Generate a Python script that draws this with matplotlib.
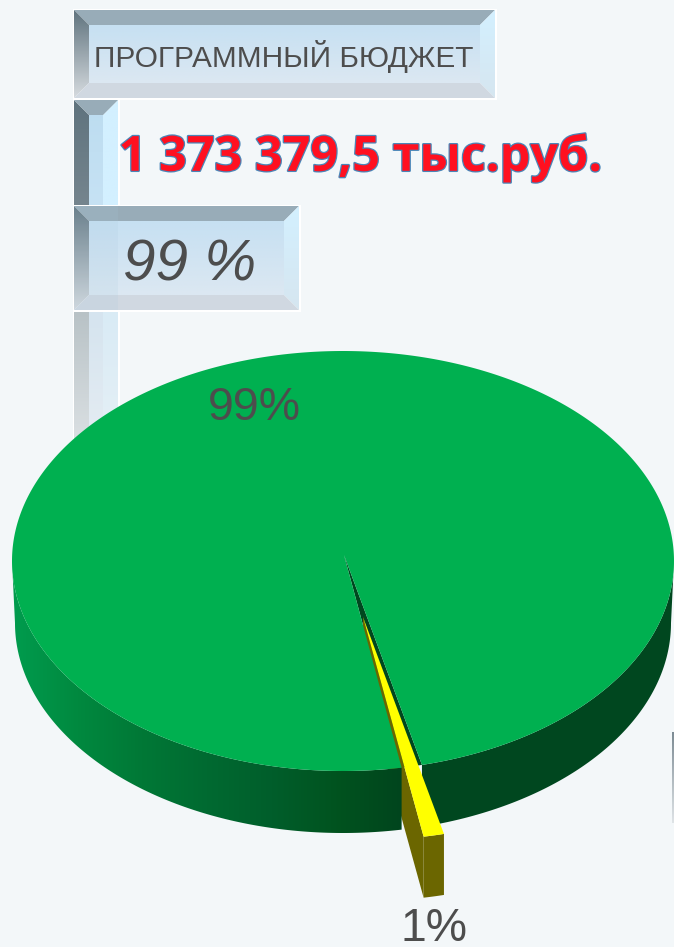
import numpy as np
import matplotlib
matplotlib.use("Agg")
import matplotlib.pyplot as plt
import matplotlib.patheffects as pe
from matplotlib.colors import LinearSegmentedColormap
from matplotlib.patches import Polygon

# data
shares = [99, 1]
pie_labels = ["99%", "1%"]
panel_title = "ПРОГРАММНЫЙ БЮДЖЕТ"
budget_text = "1 373 379,5 тыс.руб."
percent_text = "99 %"

BG = "#f3f7f9"
GREY_TEXT = "#4d4d4d"

fig = plt.figure(figsize=(6.74, 9.47), dpi=100, facecolor=BG)
ax = fig.add_axes([0, 0, 1, 1])
ax.set_axis_off()


def grad(x0, x1, y0, y1, colors, vertical=True, clip=None, alpha=None, z=1):
    cmap = LinearSegmentedColormap.from_list("g", colors)
    ramp = np.linspace(0, 1, 256)
    ramp = ramp[:, None] if vertical else ramp[None, :]
    im = ax.imshow(ramp, cmap=cmap, extent=(x0, x1, y1, y0), aspect="auto",
                   zorder=z, alpha=alpha, interpolation="bilinear")
    if clip is not None:
        p = Polygon(clip, closed=True, transform=ax.transData, fc="none", ec="none")
        ax.add_patch(p)
        im.set_clip_path(p)
    return im


def bevel_panel(x0, y0, x1, y1, b=15, z=1):
    # white hairline, then four bevels around a lighter face
    ax.add_patch(Polygon([(x0 - 1.5, y0 - 1.5), (x1 + 1.5, y0 - 1.5), (x1 + 1.5, y1 + 1.5), (x0 - 1.5, y1 + 1.5)],
                         fc="white", ec="none", zorder=z))
    grad(x0 + b, x1 - b, y0 + b, y1 - b, ["#c6e0f2", "#dce8f2"], z=z + 0.1)
    ax.add_patch(Polygon([(x0, y0), (x1, y0), (x1 - b, y0 + b), (x0 + b, y0 + b)],
                         fc="#98acb8", ec="none", zorder=z + 0.2))
    grad(x0, x0 + b, y0, y1, ["#5f737e", "#d6dbdf"],
         clip=[(x0, y0), (x0 + b, y0 + b), (x0 + b, y1 - b), (x0, y1)], z=z + 0.2)
    grad(x1 - b, x1, y0, y1, ["#d3f0ff", "#d6e6f0"],
         clip=[(x1, y0), (x1 - b, y0 + b), (x1 - b, y1 - b), (x1, y1)], z=z + 0.2)
    ax.add_patch(Polygon([(x0, y1), (x1, y1), (x1 - b, y1 - b), (x0 + b, y1 - b)],
                         fc="#d0d8e1", ec="none", zorder=z + 0.2))


# column behind the small panel, fading into the background
col_x0, col_x1, b = 74, 118, 15
ax.add_patch(Polygon([(col_x0 - 1.5, 100), (col_x1 + 1.5, 100), (col_x1 + 1.5, 206), (col_x0 - 1.5, 206)],
                     fc="white", ec="none", zorder=1))
grad(col_x0, col_x0 + b, 100, 205, ["#5f737e", "#75858e"],
     clip=[(col_x0, 100), (col_x0 + b, 115), (col_x0 + b, 205), (col_x0, 205)], z=1.2)
grad(col_x0 + b, col_x1 - b, 100, 205, ["#bcdcf0", "#c6e2f4"], z=1.1)
grad(col_x1 - b, col_x1, 100, 205, ["#d3f0ff", "#d3f0ff"],
     clip=[(col_x1, 100), (col_x1 - b, 115), (col_x1 - b, 205), (col_x1, 205)], z=1.2)
ax.add_patch(Polygon([(col_x0, 100), (col_x1, 100), (col_x1 - b, 115), (col_x0 + b, 115)],
                     fc="#98acb8", ec="none", zorder=1.3))
ax.add_patch(Polygon([(col_x0 - 1.5, 311), (col_x1 + 1.5, 311), (col_x1 + 1.5, 450), (col_x0 - 1.5, 450)],
                     fc="white", ec="none", zorder=1))
grad(col_x0, col_x0 + b, 312, 450, ["#b8c2c6", "#dde2e5"], z=1.2)
grad(col_x0 + b, col_x1 - b, 312, 450, ["#d5e4ef", "#e6edf3"], z=1.1)
grad(col_x1 - b, col_x1, 312, 450, ["#d9ebf5", "#e6f0f6"], z=1.2)

bevel_panel(74, 10, 495, 98, z=2)
bevel_panel(74, 206, 299, 310, z=2)
# column shows through the small panel
ax.add_patch(Polygon([(col_x0, 206), (col_x1, 206), (col_x1, 310), (col_x0, 310)],
                     fc="#a8c8dc", ec="none", alpha=0.16, zorder=2.5))
# sliver of a panel cut off by the right edge
grad(672, 674, 732, 823, ["#7d8b94", "#dfe4e7"], z=1)

ax.text(284, 56, panel_title, fontsize=21.4, color=GREY_TEXT, family="Liberation Sans",
        ha="center", va="center", zorder=5)
ax.text(190, 265, percent_text, fontsize=42, color=GREY_TEXT, family="Liberation Sans",
        style="italic", ha="center", va="center", zorder=5)
ax.text(360, 158, budget_text, fontsize=35, color="#ff1020", family="Open Sans",
        weight="bold", ha="center", va="center", zorder=5,
        path_effects=[pe.withStroke(linewidth=1.8, foreground="#4a86b8")])

# pie geometry, flattened ellipse seen from above
cx, cy, rx, ry = 343, 561, 331, 210
depth = 62
rx_low = 328  # lower rim is a little narrower
apex = np.array([344, 555])
small_centre = 12.0  # deg from straight down, towards the right
small_sweep = 360 * shares[1] / sum(shares)
a0 = np.radians(small_centre - small_sweep / 2)
a1 = np.radians(small_centre + small_sweep / 2)


def rim(angles):
    return np.column_stack([cx + rx * np.sin(angles), cy + ry * np.cos(angles)])


def low_rim(angles):
    return np.column_stack([cx + rx_low * np.sin(angles), cy + depth + ry * np.cos(angles)])


def low_at_x(x):
    # angle on the lower rim under a given x, on the front of the pie
    return np.arcsin((np.asarray(x) - cx) / rx_low)


# angles run from a1 the long way round to a0 + 2 pi
big = np.linspace(a1, a0 + 2 * np.pi, 720)
big_rim = rim(big)
top_face = np.vstack([apex, big_rim])

# side wall, right of the cut
right_t = np.linspace(a1, np.pi / 2, 120)
rr = rim(right_t)
right_low = low_rim(np.linspace(low_at_x(rr[0, 0]), np.pi / 2, 120))
right_wall = np.vstack([rr, right_low[::-1]])
ax.add_patch(Polygon(right_wall, fc="#00471f", ec="none", zorder=6))

# dark inner wall seen through the gap
gap = np.vstack([apex, rim(np.array([a0, a1]))])
ax.add_patch(Polygon(gap, fc="#00471f", ec="none", zorder=6.1))

# small slice, pulled out
off_tip = np.array([19, 62])
off_rim = np.array([22, 69])
tip = apex + off_tip
outer = rim(np.linspace(a0, a1, 8)) + off_rim
slice_depth = 61
wall = np.vstack([tip, outer[0], outer[0] + [0, slice_depth], tip + [0, slice_depth]])
front = np.vstack([outer, (outer + [0, slice_depth])[::-1]])
ax.add_patch(Polygon(wall, fc="#6b6600", ec="none", zorder=6.2))
ax.add_patch(Polygon(front, fc="#6b6600", ec="none", zorder=6.2))

# side wall, left of the cut, with the shading of the original
left_t = np.linspace(3 * np.pi / 2, a0 + 2 * np.pi, 300)
lr = rim(left_t)
left_low = low_rim(np.linspace(-np.pi / 2, low_at_x(lr[-1, 0]), 300))
left_wall = np.vstack([lr, left_low[::-1]])
grad(cx - rx, lr[-1, 0], cy, cy + ry + depth,
     ["#009c4e", "#00893f", "#007836", "#006a31", "#005e2b", "#00531f", "#00451d"],
     vertical=False, clip=left_wall, z=6.3)

ax.add_patch(Polygon(top_face, fc="#00b050", ec="none", zorder=6.4))
ax.add_patch(Polygon(np.vstack([tip, outer]), fc="#ffff00", ec="none", zorder=6.5))

ax.text(254, 408, pie_labels[0], fontsize=33.5, color=GREY_TEXT, family="Liberation Sans",
        ha="center", va="center", zorder=7)
ax.text(434, 941, pie_labels[1], fontsize=33.5, color=GREY_TEXT, family="Liberation Sans",
        ha="center", va="baseline", zorder=7)

ax.set_xlim(0, 674)
ax.set_ylim(947, 0)
fig.savefig("out.png", dpi=100, facecolor=BG)
